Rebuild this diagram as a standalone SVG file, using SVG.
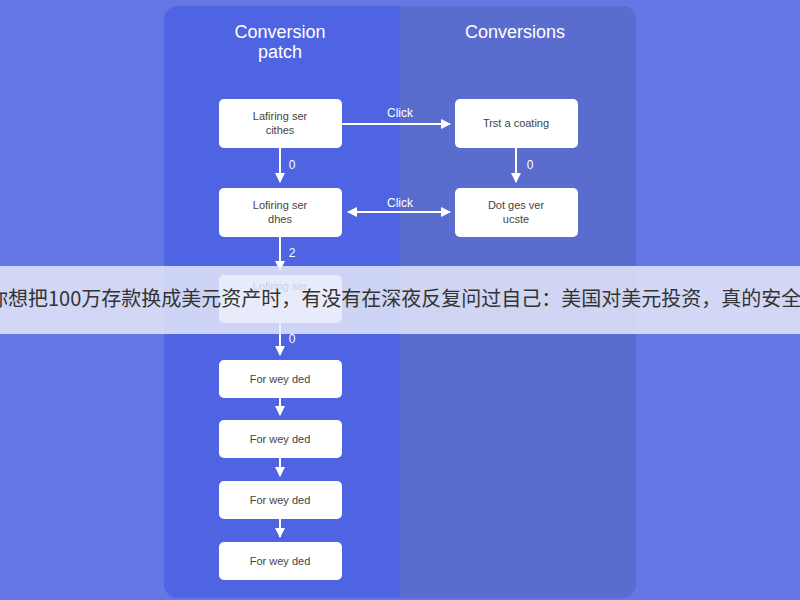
<svg xmlns="http://www.w3.org/2000/svg" width="800" height="600" viewBox="0 0 800 600">
<style>
.n{fill:#fff}
.t{font-family:"Liberation Sans",Arial,sans-serif;font-size:11px;fill:#444;text-anchor:middle}
.h{font-family:"Liberation Sans",Arial,sans-serif;font-size:18px;fill:#fff;text-anchor:middle}
.l{font-family:"Liberation Sans",Arial,sans-serif;font-size:12px;fill:#fff;text-anchor:middle}
.c{stroke:#fff;stroke-width:2;fill:none}
</style>
<defs><marker id="a" viewBox="0 0 10 10" refX="9" refY="5" markerWidth="5" markerHeight="5" orient="auto-start-reverse"><path d="M0,0L10,5L0,10z" fill="#fff"/></marker></defs>
<rect width="800" height="600" fill="#6577e4"/>
<rect x="164" y="6" width="472" height="592" rx="14" fill="#4f64e2"/>
<path d="M400,6H622a14,14 0 0 1 14,14V584a14,14 0 0 1-14,14H400z" fill="#5a6dcf"/>
<text class="h" x="280" y="38">Conversion</text>
<text class="h" x="280" y="58">patch</text>
<text class="h" x="515" y="38">Conversions</text>
<g id="connectors">
<path class="c" d="M342,124H450" marker-end="url(#a)"/><text class="l" x="400" y="117">Click</text>
<path class="c" d="M280,148V182" marker-end="url(#a)"/><text class="l" x="292" y="169">0</text>
<path class="c" d="M516,148V182" marker-end="url(#a)"/><text class="l" x="530" y="169">0</text>
<path class="c" d="M348,212H450" marker-start="url(#a)" marker-end="url(#a)"/><text class="l" x="400" y="207">Click</text>
<path class="c" d="M280,237V270" marker-end="url(#a)"/><text class="l" x="292" y="257">2</text>
<path class="c" d="M280,323V355" marker-end="url(#a)"/><text class="l" x="292" y="343">0</text>
<path class="c" d="M280,398V415" marker-end="url(#a)"/>
<path class="c" d="M280,458V476" marker-end="url(#a)"/>
<path class="c" d="M280,519V537" marker-end="url(#a)"/>
</g>
<g id="n1"><rect class="n" x="219" y="99" width="123" height="49" rx="5"/><text class="t" x="280" y="120">Lafiring ser</text><text class="t" x="280" y="134">cithes</text></g>
<g id="n2"><rect class="n" x="455" y="99" width="123" height="49" rx="5"/><text class="t" x="516" y="127">Trst a coating</text></g>
<g id="n3"><rect class="n" x="219" y="188" width="123" height="49" rx="5"/><text class="t" x="280" y="209">Lofiring ser</text><text class="t" x="280" y="223">dhes</text></g>
<g id="n4"><rect class="n" x="455" y="188" width="123" height="49" rx="5"/><text class="t" x="516" y="209">Dot ges ver</text><text class="t" x="516" y="223">ucste</text></g>
<g id="n5"><rect class="n" x="219" y="275" width="123" height="48" rx="5"/><text class="t" x="280" y="290">Lofiring ser</text></g>
<g id="n6"><rect class="n" x="219" y="360" width="123" height="38" rx="5"/><text class="t" x="280" y="383">For wey ded</text></g>
<g id="n7"><rect class="n" x="219" y="420" width="123" height="38" rx="5"/><text class="t" x="280" y="443">For wey ded</text></g>
<g id="n8"><rect class="n" x="219" y="481" width="123" height="38" rx="5"/><text class="t" x="280" y="504">For wey ded</text></g>
<g id="n9"><rect class="n" x="219" y="542" width="123" height="38" rx="5"/><text class="t" x="280" y="565">For wey ded</text></g>
<rect x="0" y="266" width="800" height="68" fill="#e4e8f8" fill-opacity="0.85"/>
<text x="-12" y="306" font-family="'Noto Sans CJK SC',sans-serif" font-size="20" fill="#333">你想把100万存款换成美元资产时，有没有在深夜反复问过自己：美国对美元投资，真的安全吗</text>
</svg>
